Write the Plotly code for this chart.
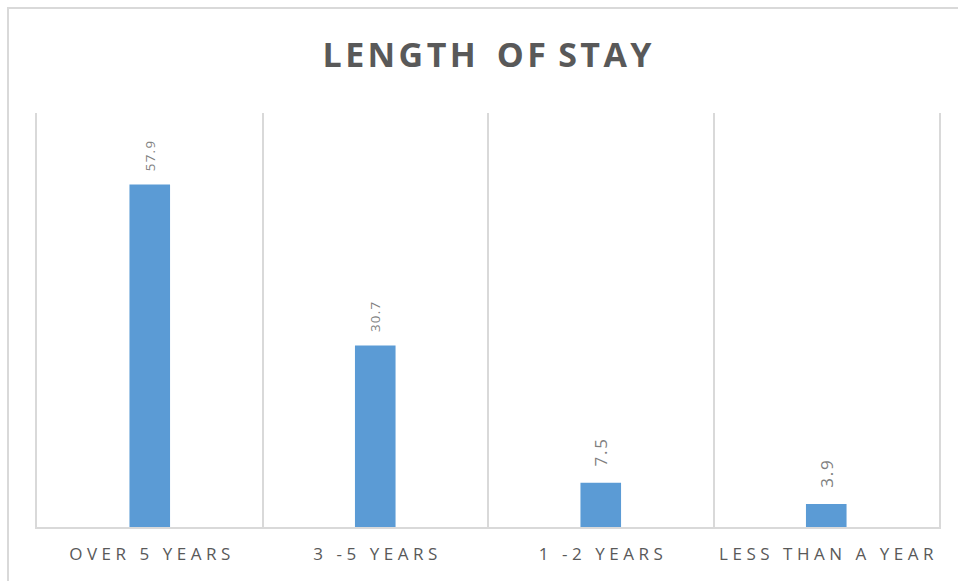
import plotly.graph_objects as go

categories = ["OVER 5 YEARS", "3 -5 YEARS", "1 -2 YEARS", "LESS THAN A YEAR"]
values = [57.9, 30.7, 7.5, 3.9]

W, H = 958, 581
L, R, T, B = 37, 19, 113, 54
pw, ph = W - L - R, H - T - B

THIN = "\u2009"
HAIR = "\u200a"
NB = "\u00a0"


def spaced(s, sep=THIN):
    return sep.join(list(s))


ticktext = [spaced(c, THIN + HAIR) for c in categories]
bar_text = [NB * 3 + spaced(f"{v}", HAIR) for v in values]
title_text = spaced("LENGTH", HAIR) + NB * 2 + HAIR + spaced("OF", HAIR) + NB + HAIR + spaced("STAY", HAIR)

fig = go.Figure(go.Bar(
    x=categories, y=values,
    text=bar_text, texttemplate="%{text}",
    textposition="outside", textangle=-90,
    textfont=dict(family="Open Sans", size=17, color="#7f7f7f"),
    marker=dict(color="#5B9BD5", line=dict(width=0)),
    width=0.18, cliponaxis=False,
))

fig.update_layout(
    width=W, height=H,
    margin=dict(l=L, r=R, t=T, b=B),
    paper_bgcolor="white", plot_bgcolor="white",
    showlegend=False,
    title=dict(text=title_text,
               x=0.5 + (487 - W / 2) / W, xanchor="center",
               y=1 - 55 / H, yanchor="middle",
               font=dict(family="Open Sans", size=34, color="#595959", weight="bold")),
    xaxis=dict(type="category", tickson="boundaries", showgrid=True,
               gridcolor="#d9d9d9", gridwidth=1.5, ticks="", showline=True,
               linecolor="#d9d9d9", linewidth=1.5,
               tickmode="array", tickvals=categories, ticktext=ticktext,
               ticklabelstandoff=11,
               tickfont=dict(family="Open Sans", size=17, color="#595959"),
               range=[-0.5, 3.5]),
    yaxis=dict(range=[0, 70], showgrid=False, showticklabels=False,
               zeroline=False, showline=True, mirror=True,
               linecolor="#d9d9d9", linewidth=1.5, ticks=""),
)

fig.add_shape(type="rect", xref="paper", yref="paper",
              x0=(8 - L) / pw, x1=1.2,
              y0=-0.3, y1=(H - B - 8) / ph,
              line=dict(color="#d9d9d9", width=2), layer="below")

fig.write_html("out.html", config={"displayModeBar": False},
               post_script="document.body.style.margin='0';document.body.style.padding='0';")
